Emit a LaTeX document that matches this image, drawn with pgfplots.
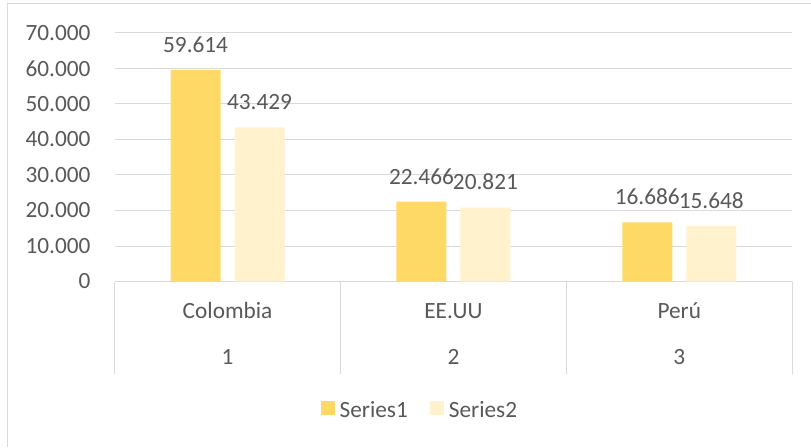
\documentclass[border=0pt]{standalone}
\usepackage{pgfplots}
\pgfplotsset{compat=1.18}
\usepackage{fontspec}
\setmainfont{Carlito}
\definecolor{txt}{HTML}{595959}
\definecolor{sone}{HTML}{FFD966}
\definecolor{stwo}{HTML}{FFF2CC}
\definecolor{gridc}{HTML}{D9D9D9}
\newcommand\fs{\fontsize{23.3bp}{28bp}\selectfont}
\begin{document}
\begin{tikzpicture}[x=1bp,y=1bp]
\fill[white] (0,0) rectangle (811,447);
\draw[gridc, line width=1bp] (8,0) -- (8,443) -- (811,443);
\begin{axis}[
  at={(114.7bp,165.3bp)}, anchor=south west,
  scale only axis, width=678bp, height=248.7bp,
  xmin=0.5, xmax=3.5, ymin=0, ymax=70000,
  ybar=14bp, bar width=50bp,
  axis line style={draw=none},
  xtick=\empty,
  ytick={0,10000,20000,30000,40000,50000,60000,70000},
  ymajorgrids, major grid style={gridc, line width=1bp},
  major tick length=0pt,
  scaled y ticks=false,
  /pgf/number format/.cd, fixed, precision=0, 1000 sep={.}, assume math mode=true, /pgfplots/.cd,
  tick label style={font=\fs, text=txt},
  yticklabel style={anchor=east, inner sep=0pt, xshift=-24bp},
  clip=false,
  nodes near coords,
  nodes near coords style={anchor=base, inner sep=0pt, yshift=17.7bp, text=txt, font=\fs},
  legend style={at={(0.449,-0.516)}, anchor=center, draw=none, fill=none,
    legend columns=2, font=\fs, text=txt, nodes={inner sep=0pt},
    /tikz/every odd column/.append style={column sep=5bp},
    /tikz/every even column/.append style={column sep=22bp}},
  legend image code/.code={\fill[#1] (0bp,-5bp) rectangle (14bp,8.4bp);},
]
\addplot[fill=sone, draw=none] coordinates {(1,59614) (2,22466) (3,16686)};
\addplot[fill=stwo, draw=none] coordinates {(1,43429) (2,20821) (3,15648)};
\legend{Series1,Series2}
\foreach \xx in {0.5,1.5,2.5,3.5} {
  \edef\temp{\noexpand\draw[gridc, line width=1bp] (axis cs:\xx,0) -- ([yshift=-93bp]axis cs:\xx,0);}
  \temp
}
\node[anchor=base, font=\fs, text=txt, inner sep=0pt, yshift=-36.8bp] at (axis cs:1,0) {Colombia};
\node[anchor=base, font=\fs, text=txt, inner sep=0pt, yshift=-36.8bp] at (axis cs:2,0) {EE.UU};
\node[anchor=base, font=\fs, text=txt, inner sep=0pt, yshift=-36.8bp] at (axis cs:3,0) {Perú};
\node[anchor=base, font=\fs, text=txt, inner sep=0pt, yshift=-82.8bp] at (axis cs:1,0) {1};
\node[anchor=base, font=\fs, text=txt, inner sep=0pt, yshift=-82.8bp] at (axis cs:2,0) {2};
\node[anchor=base, font=\fs, text=txt, inner sep=0pt, yshift=-82.8bp] at (axis cs:3,0) {3};
\end{axis}
\end{tikzpicture}
\end{document}
